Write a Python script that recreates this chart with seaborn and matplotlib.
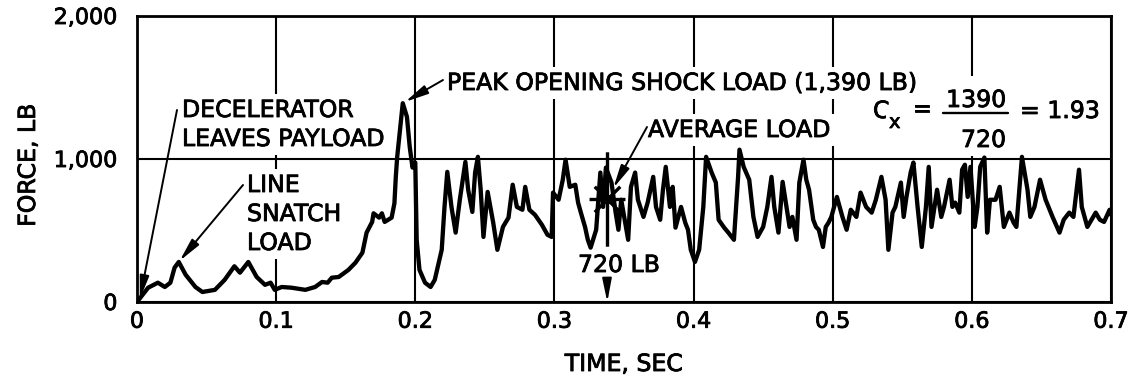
import matplotlib
matplotlib.use("Agg")
import matplotlib.pyplot as plt
import matplotlib.patches as mpatches
import matplotlib.patheffects as pe
from matplotlib.path import Path
from matplotlib.ticker import FixedLocator, FuncFormatter
import seaborn as sns
import pandas as pd

# Recorded parachute force history
time_s = [0.000, 0.004, 0.008, 0.015, 0.020, 0.024, 0.027, 0.030, 0.035, 0.042, 0.047, 0.056, 0.063, 0.070, 0.074, 0.080, 0.086, 0.092, 0.096, 0.099,
          0.104, 0.111, 0.121, 0.128, 0.133, 0.137, 0.140, 0.145, 0.152, 0.157, 0.162, 0.165, 0.169, 0.170, 0.174, 0.176, 0.178, 0.183, 0.185, 0.186, 0.187, 0.189, 0.191, 0.194, 0.196, 0.198, 0.200,
          0.201, 0.203, 0.207, 0.211, 0.214, 0.219, 0.221, 0.223, 0.226, 0.229, 0.232, 0.236, 0.238, 0.241, 0.243, 0.245, 0.247, 0.249, 0.252, 0.256, 0.259, 0.263, 0.267, 0.270, 0.273, 0.277, 0.279, 0.282, 0.286, 0.291, 0.295, 0.298, 0.299,
          0.303, 0.306, 0.308, 0.311, 0.315, 0.317, 0.319, 0.322, 0.324, 0.326, 0.330, 0.333, 0.335, 0.337, 0.341, 0.344, 0.346, 0.348, 0.353, 0.355, 0.358, 0.360, 0.364, 0.367, 0.371, 0.373, 0.376, 0.378, 0.380, 0.383, 0.385, 0.387, 0.391, 0.394, 0.396, 0.398,
          0.401, 0.404, 0.407, 0.409, 0.413, 0.416, 0.418, 0.422, 0.425, 0.429, 0.432, 0.433, 0.436, 0.440, 0.443, 0.446, 0.450, 0.453, 0.456, 0.458, 0.461, 0.464, 0.466, 0.469, 0.471, 0.474, 0.476, 0.479, 0.481, 0.483, 0.486, 0.488, 0.490, 0.493, 0.495, 0.497, 0.499,
          0.503, 0.507, 0.510, 0.513, 0.517, 0.520, 0.524, 0.528, 0.531, 0.535, 0.538, 0.540, 0.543, 0.545, 0.549, 0.551, 0.553, 0.556, 0.558, 0.561, 0.564, 0.567, 0.569, 0.571, 0.575, 0.578, 0.580, 0.584, 0.586, 0.588, 0.591, 0.593, 0.595, 0.597, 0.599,
          0.602, 0.604, 0.606, 0.609, 0.611, 0.613, 0.617, 0.620, 0.623, 0.627, 0.630, 0.632, 0.636, 0.640, 0.642, 0.645, 0.649, 0.653, 0.658, 0.663, 0.666, 0.670, 0.673, 0.677, 0.679, 0.683, 0.686, 0.689, 0.692, 0.695, 0.699, 0.700]
force_lb = [0, 50, 100, 135, 105, 135, 240, 280, 190, 105, 70, 85, 155, 250, 205, 280, 175, 120, 135, 85,
            105, 100, 85, 105, 140, 135, 170, 175, 225, 275, 345, 485, 560, 620, 590, 620, 560, 590, 690, 875, 1015, 1200, 1390, 1295, 1085, 940, 975,
            435, 225, 135, 105, 155, 365, 665, 910, 665, 485, 715, 980, 785, 630, 905, 1015, 785, 455, 770, 555, 365, 525, 590, 820, 665, 645, 805, 645, 610, 540, 470, 455, 765,
            715, 855, 995, 805, 820, 695, 625, 525, 435, 380, 505, 905, 665, 940, 835, 625, 505, 715, 435, 805, 905, 715, 595, 695, 875, 665, 575, 785, 945, 665, 805, 520, 665, 555, 505, 365,
            280, 365, 665, 1015, 905, 835, 575, 520, 485, 435, 875, 1065, 945, 855, 595, 455, 525, 665, 875, 665, 485, 840, 715, 525, 595, 435, 835, 995, 855, 785, 575, 525, 505, 385, 525, 555, 595,
            735, 595, 505, 645, 595, 765, 665, 625, 715, 875, 715, 365, 625, 665, 835, 595, 735, 905, 975, 665, 385, 665, 945, 525, 785, 595, 665, 855, 665, 695, 625, 925, 960, 735, 945,
            525, 665, 945, 1010, 485, 715, 715, 805, 525, 625, 555, 525, 1015, 785, 595, 665, 855, 715, 595, 485, 575, 625, 595, 925, 665, 525, 575, 625, 575, 560, 645, 610]

snatch_time = 0.030
peak_load = 1390
avg_time = 0.338
avg_load = 720

x_ticks = [0, 0.1, 0.2, 0.3, 0.4, 0.5, 0.6, 0.7]
y_ticks = [0, 1000, 2000]

df = pd.DataFrame({"time": time_s, "force": force_lb})
peak_time = df.loc[df["force"].idxmax(), "time"]
snatch_load = df.loc[df["time"] == snatch_time, "force"].iloc[0]

sns.set_theme(style="white", rc={"text.color": "black", "axes.labelcolor": "black",
                                 "xtick.color": "black", "ytick.color": "black"})
plt.rcParams["font.family"] = ["DejaVu Sans"]
FS = 16      # tick labels
FS_TXT = 17  # annotations and axis titles
W, H = 1128, 377
heavy = [pe.withStroke(linewidth=0.6, foreground="black")]

fig = plt.figure(figsize=(W / 100, H / 100), dpi=100)
ax = fig.add_axes([137 / W, 1 - 302 / H, (1111 - 137) / W, (302 - 16) / H])


def fpx(x, y):
    """Figure-pixel position measured from the top-left corner."""
    return (x, H - y)


sns.lineplot(data=df, x="time", y="force", ax=ax, color="black", lw=3.1,
             estimator=None, sort=False, zorder=5)

ax.set_xlim(0, 0.7)
ax.set_ylim(0, 2000)
ax.xaxis.set_major_locator(FixedLocator(x_ticks))
ax.yaxis.set_major_locator(FixedLocator(y_ticks))
ax.xaxis.set_major_formatter(FuncFormatter(lambda v, p: "0" if v == 0 else f"{v:.1f}"))
ax.yaxis.set_major_formatter(FuncFormatter(lambda v, p: f"{v:,.0f}"))
ax.tick_params(axis="both", length=0, labelsize=FS, colors="black")
ax.tick_params(axis="y", pad=14)
ax.tick_params(axis="x", pad=7)
for t in ax.get_xticklabels() + ax.get_yticklabels():
    t.set_path_effects(heavy)
ax.set_xlabel("")
ax.set_ylabel("")
ax.grid(True, color="black", lw=1.5)
ax.set_axisbelow(True)
for s in ax.spines.values():
    s.set_visible(True)
    s.set_color("black")
    s.set_linewidth(2.0)

fig.text(28 / W, 1 - 165 / H, "FORCE, LB", rotation=90, ha="center", va="center",
         fontsize=FS_TXT, color="black", path_effects=heavy)
fig.text(624 / W, 1 - 364 / H, "TIME, SEC", ha="center", va="center",
         fontsize=FS_TXT, color="black", path_effects=heavy)

box = dict(facecolor="white", edgecolor="none", pad=2.5)


def label(x, y, s, **kw):
    kw.setdefault("fontsize", FS_TXT)
    kw.setdefault("ha", "left")
    kw.setdefault("va", "baseline")
    return ax.annotate(s, xy=fpx(x, y), xycoords="figure pixels", bbox=box,
                       color="black", zorder=4, annotation_clip=False,
                       path_effects=heavy, **kw)


arrow_kw = dict(arrowstyle="-|>,head_length=0.7,head_width=0.14", color="black",
                lw=1.4, mutation_scale=20, shrinkA=0)


def pointer(start, target, shrink=0):
    ax.annotate("", xy=target, xycoords="data", xytext=fpx(*start),
                textcoords="figure pixels", zorder=6, annotation_clip=False,
                arrowprops=dict(shrinkB=shrink, **arrow_kw))


# Annotations
label(182, 117, "DECELERATOR")
label(182, 146, "LEAVES PAYLOAD")
pointer((177, 110), (time_s[0] + 0.002, force_lb[0] + 20))

label(247, 192, "LINE")
label(247, 221, "SNATCH")
label(247, 250, "LOAD")
pointer((243, 185), (snatch_time, snatch_load), shrink=1)

label(447, 90, f"PEAK OPENING SHOCK LOAD (1,{peak_load % 1000} LB)")
pointer((443, 80), (peak_time, peak_load), shrink=2)

label(648, 137, "AVERAGE LOAD")
pointer((647, 127), (avg_time, avg_load), shrink=9)

label(578, 272, f"{avg_load} LB")
pointer((607, 278), (avg_time, 0))

# Average marker: asterisk with long vertical arms
d = 0.27
star = Path([(0, -1), (0, 1), (-0.38, 0), (0.38, 0), (-d, -d), (d, d), (-d, d), (d, -d)],
            [Path.MOVETO, Path.LINETO] * 4)
ax.plot([avg_time], [avg_load], marker=star, ms=68, mew=2.4, color="black",
        ls="none", zorder=6)

# Drag coefficient expression on a blank panel over the grid
ax.add_patch(mpatches.Rectangle((866 / W, 1 - 153 / H), (1104 - 866) / W, (153 - 76) / H,
                                transform=fig.transFigure, facecolor="white",
                                edgecolor="none", zorder=1.5, clip_on=False))
label(873, 118, "C")
label(889, 128, "x", fontsize=14)
label(912, 116, "=")
label(1006, 107, f"{peak_load}", ha="right")
label(1006, 147, f"{avg_load}", ha="right")
ax.add_line(plt.Line2D([943 / W, 1008 / W], [1 - 113 / H, 1 - 113 / H], transform=fig.transFigure,
                       color="black", lw=1.7, zorder=4, clip_on=False))
label(1020, 118, f"= {peak_load / avg_load:.2f}")

fig.savefig("out.png", dpi=100)
